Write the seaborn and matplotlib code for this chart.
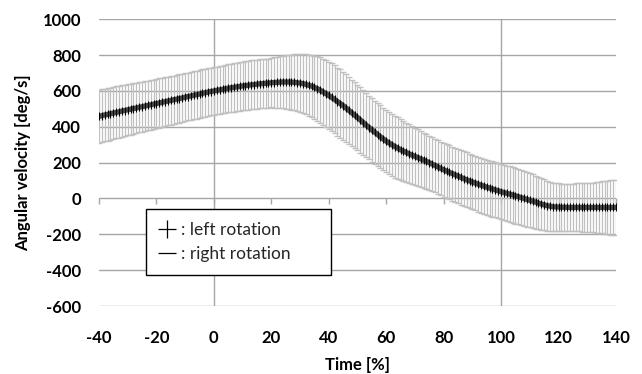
import matplotlib
matplotlib.use("Agg")
import matplotlib.pyplot as plt
from matplotlib.lines import Line2D
import numpy as np
import pandas as pd
import seaborn as sns

# ---- data ----
time_pct = list(range(-40, 141))
mean_vel = [
    458, 462, 466, 469, 473, 477, 480, 484, 488, 491,
    495, 498, 502, 505, 509, 512, 516, 519, 523, 526,
    530, 533, 537, 540, 544, 547, 551, 554, 558, 561,
    565, 569, 572, 576, 579, 583, 587, 590, 594, 597,
    600, 603, 606, 609, 612, 615, 618, 620, 623, 625,
    628, 630, 632, 634, 636, 638, 640, 641, 643, 644,
    646, 647, 648, 649, 650, 650, 650, 649, 648, 646,
    644, 641, 637, 632, 627, 620, 613, 604, 595, 585,
    575, 564, 553, 541, 530, 518, 505, 492, 478, 465,
    452, 438, 424, 410, 396, 383, 370, 357, 344, 332,
    320, 310, 300, 290, 281, 272, 264, 257, 249, 242,
    235, 228, 221, 214, 207, 200, 192, 184, 176, 168,
    160, 153, 146, 139, 132, 125, 118, 111, 104, 98,
    92, 86, 80, 74, 69, 63, 58, 53, 48, 43,
    38, 33, 29, 24, 20, 15, 10, 5, 0, -5,
    -10, -15, -20, -26, -31, -36, -40, -43, -46, -47,
    -48, -49, -49, -50, -50, -50, -50, -50, -50, -50,
    -50, -50, -50, -50, -50, -50, -50, -50, -50, -50, -50,
]
sd_vel = [
    148, 147, 147, 146, 146, 145, 145, 144, 144, 143,
    143, 142, 142, 141, 140, 140, 139, 139, 138, 138,
    137, 137, 136, 136, 135, 135, 135, 134, 134, 134,
    133, 133, 133, 133, 133, 133, 133, 133, 133, 133,
    133, 133, 133, 133, 134, 134, 134, 135, 135, 135,
    136, 136, 136, 137, 137, 137, 137, 137, 137, 137,
    138, 140, 142, 144, 146, 148, 150, 153, 156, 159,
    162, 165, 168, 171, 174, 177, 180, 183, 185, 187,
    189, 190, 190, 190, 190, 189, 188, 187, 186, 185,
    184, 183, 182, 180, 178, 177, 176, 175, 175, 174,
    174, 174, 173, 173, 172, 170, 168, 166, 164, 162,
    160, 158, 156, 154, 152, 150, 149, 149, 149, 149,
    150, 150, 150, 151, 151, 152, 152, 152, 153, 153,
    153, 153, 153, 153, 153, 153, 153, 154, 154, 154,
    155, 155, 155, 155, 155, 155, 155, 154, 153, 152,
    150, 149, 148, 146, 144, 142, 140, 137, 135, 133,
    132, 132, 132, 133, 133, 133, 134, 134, 135, 135,
    136, 137, 139, 141, 143, 145, 147, 149, 151, 153, 155,
]
x_ticks = [-40, -20, 0, 20, 40, 60, 80, 100, 120, 140]
y_ticks = [-600, -400, -200, 0, 200, 400, 600, 800, 1000]
v_grid = [0, 100]
legend_labels = [": left rotation", ": right rotation"]
x_label = "Time [%]"
y_label = "Angular velocity [deg/s]"

df = pd.DataFrame({"time": time_pct, "vel": mean_vel, "sd": sd_vel})

sns.set_theme(style="white")
plt.rcParams["font.family"] = ["Lato", "DejaVu Sans"]
plt.rcParams["axes.unicode_minus"] = False

fig = plt.figure(figsize=(6.42, 3.74), dpi=100)
ax = fig.add_axes([0.1542, 0.1818, 0.8053, 0.7666])

grid_col = "#a6a6a6"
for yv in y_ticks:
    ax.axhline(yv, color=grid_col, lw=1.0, zorder=0)
for xv in v_grid:
    ax.axvline(xv, color=grid_col, lw=1.0, zorder=0)

ax.errorbar(df["time"], df["vel"], yerr=df["sd"], fmt="none",
            ecolor="#c0c0c0", elinewidth=0.9, capsize=2.2, capthick=1.0,
            zorder=1)
sns.lineplot(data=df, x="time", y="vel", ax=ax, color="#4a4a4a",
             lw=3.8, marker="|", markersize=6, markeredgecolor="black",
             markeredgewidth=0.8, zorder=3)

ax.set_xlim(-40, 140)
ax.set_ylim(-600, 1000)
ax.set_xticks(x_ticks)
ax.set_yticks(y_ticks)
for s in ax.spines.values():
    s.set_visible(False)
ax.tick_params(axis="both", length=0, labelsize=12, colors="black")
ax.tick_params(axis="y", pad=13)
ax.tick_params(axis="x", pad=17)
for lab in ax.get_xticklabels() + ax.get_yticklabels():
    lab.set_fontweight("bold")
ax.set_xlabel(x_label, fontsize=12, fontweight="bold", labelpad=8,
              color="black")
ax.set_ylabel(y_label, fontsize=12, fontweight="bold", labelpad=8,
              color="black")

# tick marks on the zero line
sec = ax.secondary_xaxis(0.375)
sec.set_xticks(x_ticks)
sec.xaxis.set_ticks_position("bottom")
sec.tick_params(direction="out", length=4, width=1, color=grid_col,
                labelbottom=False, labeltop=False)
for s in sec.spines.values():
    s.set_visible(False)

handles = [
    Line2D([], [], ls="none", marker="+", markersize=13, color="black",
           markeredgewidth=0.9),
    Line2D([], [], ls="none", marker="_", markersize=13, color="black",
           markeredgewidth=0.9),
]
leg_w, leg_h = 0.358, 0.233
leg = ax.legend(handles, legend_labels, loc="upper left",
                bbox_to_anchor=(0.091, 0.338 - leg_h, leg_w, leg_h),
                mode="expand", borderaxespad=0,
                frameon=True, fancybox=False, framealpha=1,
                edgecolor="black", fontsize=12.5, handlelength=1.0,
                handletextpad=0.3, labelspacing=0.5, borderpad=0.72)
leg.get_frame().set_linewidth(1.0)
leg.set_zorder(5)

fig.savefig("out.png", dpi=100)
